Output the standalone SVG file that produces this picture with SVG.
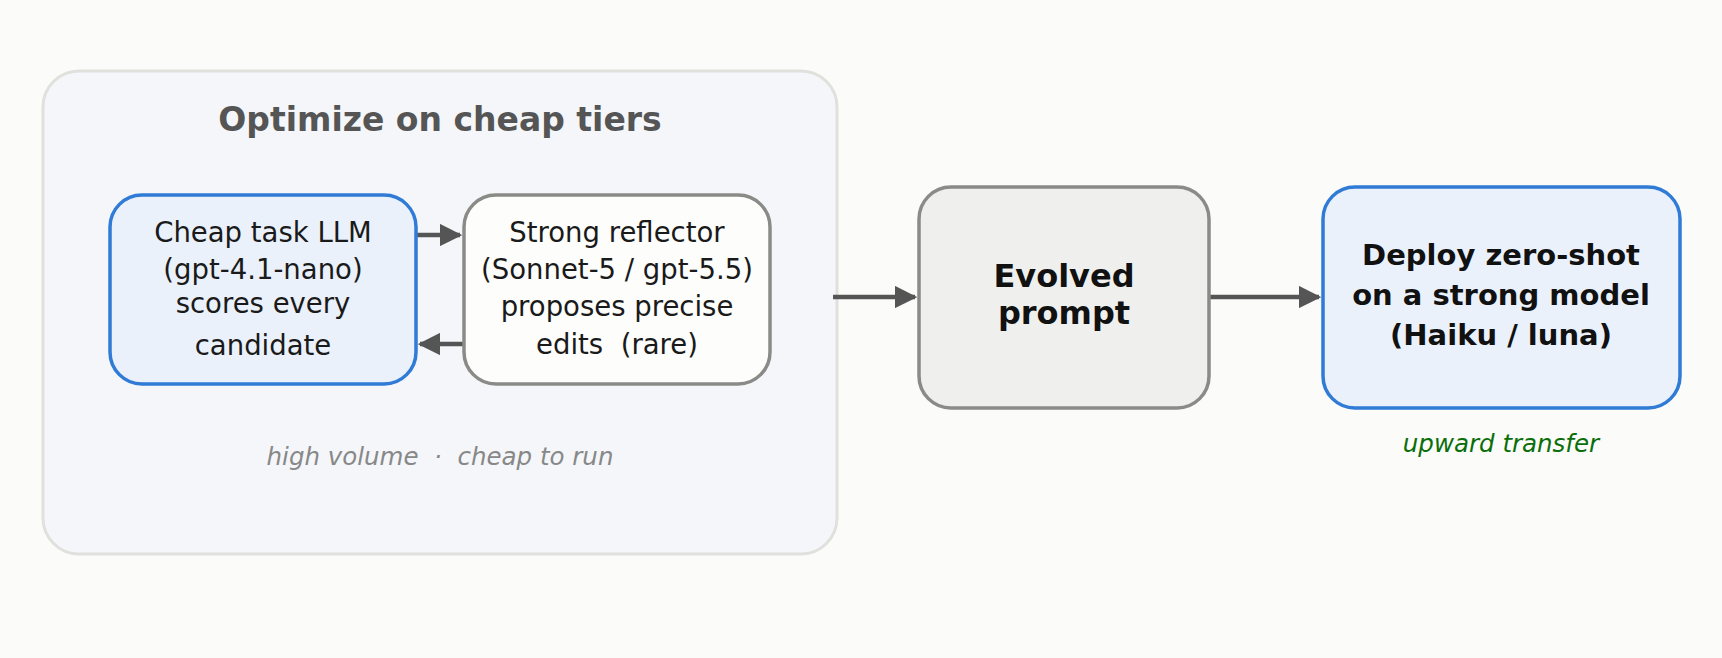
<svg xmlns="http://www.w3.org/2000/svg" width="1722" height="658" viewBox="0 0 1722 658">
<style>
text{font-family:"DejaVu Sans",sans-serif;text-anchor:middle;white-space:pre}
.n{font-size:27.5px;fill:#1a1a1a}
.b{font-size:29px;font-weight:bold;fill:#111}
.it{font-style:italic;font-size:24.5px}
.c{stroke:#555;stroke-width:4.5;fill:none}
</style>
<defs>
<marker id="ah" viewBox="0 0 10 10" refX="9" refY="5" markerWidth="5" markerHeight="5" orient="auto" markerUnits="strokeWidth"><path d="M0,0L10,5L0,10z" fill="#555"/></marker>
</defs>
<rect width="1722" height="658" fill="#fbfbf9"/>
<g id="container">
<rect x="43" y="71" width="794" height="483" rx="36" fill="#f4f6fa" stroke="#e0e0dc" stroke-width="3"/>
<text x="440" y="131" style="font-size:33px;font-weight:bold;fill:#555">Optimize on cheap tiers</text>
<text x="440" y="465" class="it" fill="#888" xml:space="preserve">high volume  ·  cheap to run</text>
</g>
<g id="connectors">
<line class="c" x1="416" y1="235" x2="460" y2="235" marker-end="url(#ah)"/>
<line class="c" x1="464" y1="344" x2="420" y2="344" marker-end="url(#ah)"/>
<line class="c" x1="833" y1="297" x2="915" y2="297" marker-end="url(#ah)"/>
<line class="c" x1="1204" y1="297" x2="1319" y2="297" marker-end="url(#ah)"/>
</g>
<g id="cheap">
<rect x="110" y="195" width="306" height="189" rx="32" fill="#eaf1fb" stroke="#2f7bd6" stroke-width="3.5"/>
<text class="n" x="263" y="242">Cheap task LLM</text>
<text class="n" x="263" y="279">(gpt-4.1-nano)</text>
<text class="n" x="263" y="313">scores every</text>
<text class="n" x="263" y="355">candidate</text>
</g>
<g id="reflector">
<rect x="464" y="195" width="306" height="189" rx="32" fill="#fdfdfc" stroke="#8a8a86" stroke-width="3.5"/>
<text class="n" x="617" y="242">Strong reflector</text>
<text class="n" x="617" y="279">(Sonnet-5 / gpt-5.5)</text>
<text class="n" x="617" y="316">proposes precise</text>
<text class="n" x="617" y="354" xml:space="preserve">edits  (rare)</text>
</g>
<g id="evolved">
<rect x="919" y="187" width="290" height="221" rx="32" fill="#eff0ee" stroke="#8a8a86" stroke-width="3.5"/>
<text class="b" x="1064" y="287" style="font-size:32px">Evolved</text>
<text class="b" x="1064" y="324" style="font-size:32px">prompt</text>
</g>
<g id="deploy">
<rect x="1323" y="187" width="357" height="221" rx="32" fill="#eaf1fb" stroke="#2f7bd6" stroke-width="3.5"/>
<text class="b" x="1501" y="265">Deploy zero-shot</text>
<text class="b" x="1501" y="305">on a strong model</text>
<text class="b" x="1501" y="345">(Haiku / luna)</text>
<text class="it" x="1501" y="452" fill="#0a6e0a">upward transfer</text>
</g>
</svg>
